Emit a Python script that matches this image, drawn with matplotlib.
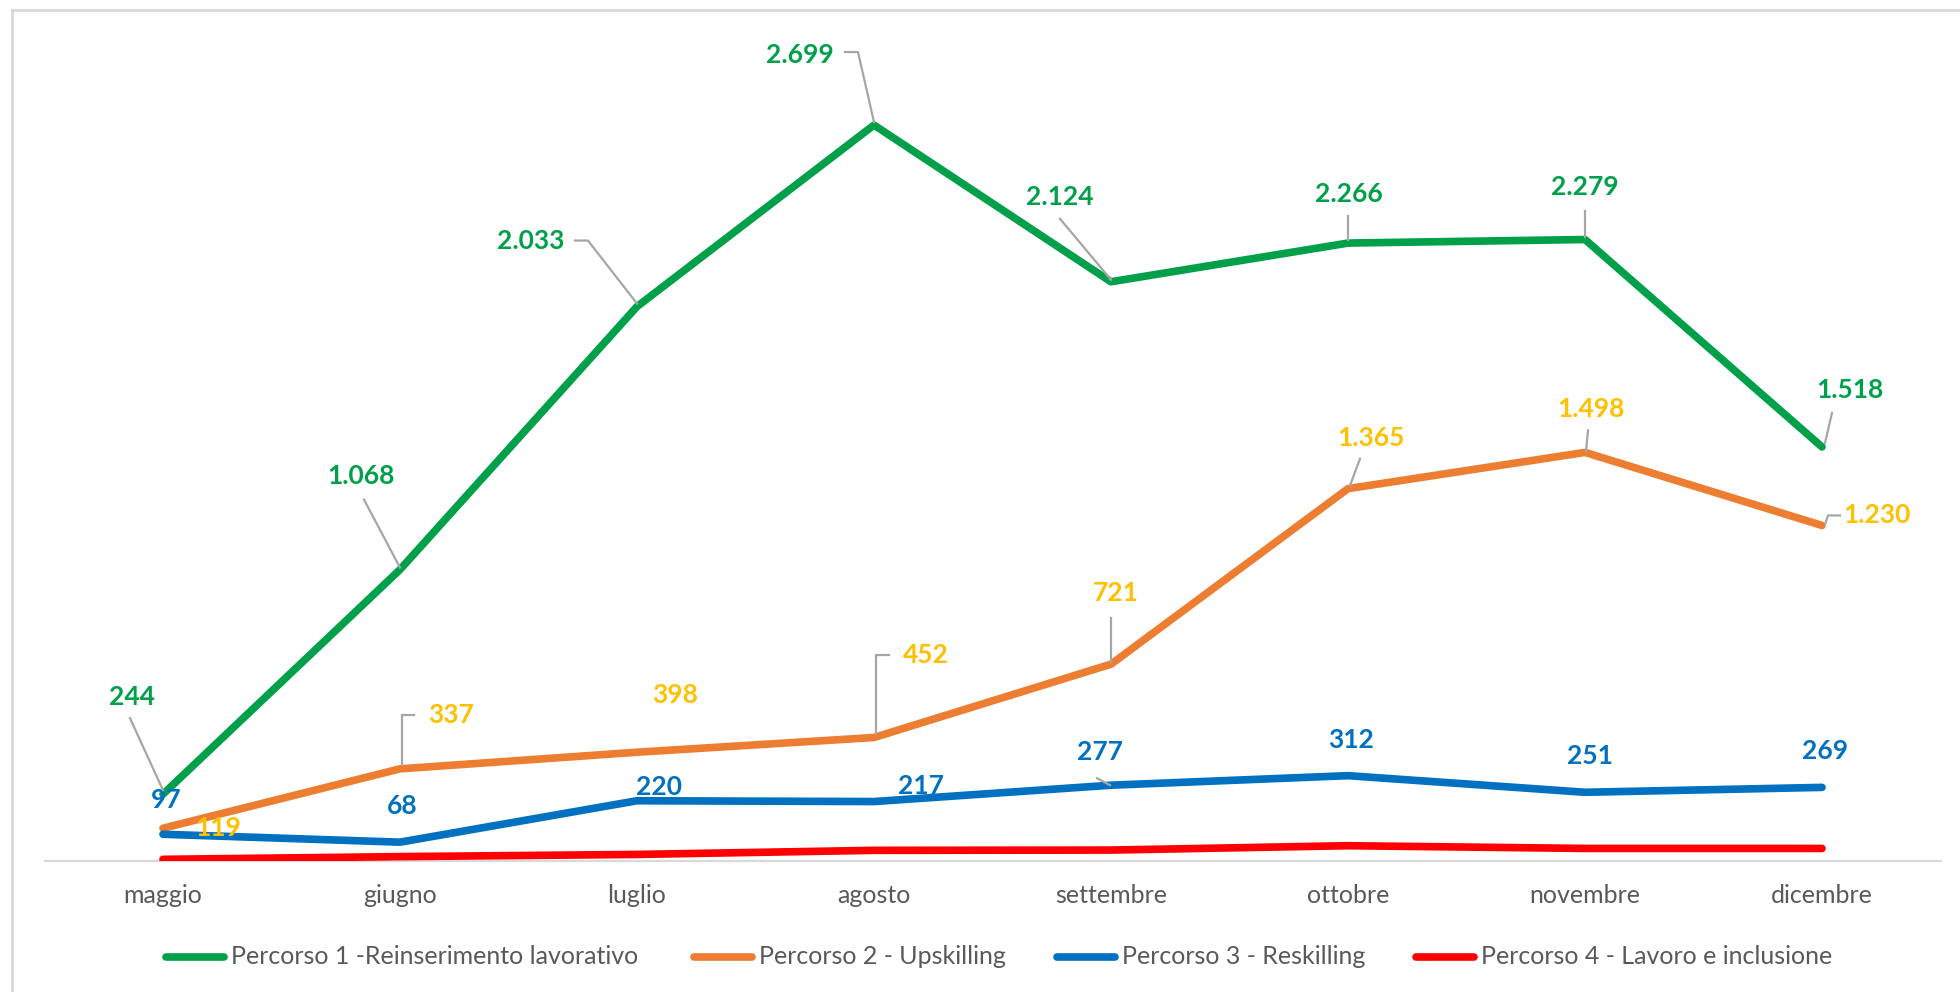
import matplotlib
matplotlib.use("Agg")
import matplotlib.pyplot as plt
from matplotlib.lines import Line2D

months = ["maggio", "giugno", "luglio", "agosto", "settembre", "ottobre", "novembre", "dicembre"]
percorso1 = [244, 1068, 2033, 2699, 2124, 2266, 2279, 1518]
percorso2 = [119, 337, 398, 452, 721, 1365, 1498, 1230]
percorso3 = [97, 68, 220, 217, 277, 312, 251, 269]
percorso4 = [5, 15, 23, 38, 39, 55, 45, 45]  # no labels in the source

names = ["Percorso 1 -Reinserimento lavorativo", "Percorso 2 - Upskilling",
         "Percorso 3 - Reskilling", "Percorso 4 - Lavoro e inclusione"]
line_colors = ["#00A04A", "#ED7D31", "#0070C0", "#FF0000"]
label_colors = ["#00A04A", "#FFC000", "#0070C0", None]

# label offsets from the point, pixels (x right, y down) as in the picture
label_off = [
    [(-31, -97), (-39, -94), (-106, -66), (-74, -70), (-51, -85), (1, -49), (0, -53), (28, -57)],
    [(55, 0), (51, -54), (38, -57), (52, -82), (5, -71), (23, -51), (6, -43), (55, -10)],
    [(3, -34), (2, -36), (22, -14), (47, -16), (-11, -33), (3, -36), (5, -36), (3, -36)],
]
# leader lines (series, point index, polyline offsets)
leaders = [
    (0, 0, [(-33, -76), (0, -4)]),
    (0, 1, [(-36, -70), (0, -2)]),
    (0, 2, [(-62, -66), (-49, -66), (0, -3)]),
    (0, 3, [(-29, -73), (-16, -73), (0, -3)]),
    (0, 4, [(-51, -63), (0, -2)]),
    (0, 5, [(0, -27), (0, -3)]),
    (0, 6, [(0, -29), (0, -3)]),
    (0, 7, [(10, -34), (3, -4)]),
    (1, 1, [(14, -54), (2, -54), (2, -4)]),
    (1, 3, [(15, -82), (2, -82), (2, -3)]),
    (1, 4, [(0, -46), (0, -2)]),
    (1, 5, [(12, -30), (2, -3)]),
    (1, 6, [(3, -22), (1, -1)]),
    (1, 7, [(18, -10), (6, -10), (3, -1)]),
    (2, 4, [(-14, -7), (-1, 0)]),
]

plt.rcParams["font.family"] = ["Lato", "DejaVu Sans"]

fig = plt.figure(figsize=(19.6, 9.92), dpi=100)
ax = fig.add_axes([44.5 / 1960, 1 - 860.7 / 992, 1896 / 1960, (860.7 - 43) / 992])

series = [percorso1, percorso2, percorso3, percorso4]
x = list(range(len(months)))
for vals, col in zip(series, line_colors):
    ax.plot(x, vals, color=col, lw=5.5, solid_capstyle="round", solid_joinstyle="round", zorder=3)

ax.set_xlim(-0.5, len(months) - 0.5)
ax.set_ylim(0, 3000)
ax.set_yticks([])
ax.set_xticks(x)
ax.set_xticklabels(months, fontsize=18, color="#595959")
ax.tick_params(axis="x", length=0, pad=17)
for side in ["top", "left", "right"]:
    ax.spines[side].set_visible(False)
ax.spines["bottom"].set_color("#D9D9D9")
ax.spines["bottom"].set_linewidth(1.6)

for s in range(3):
    for i, v in enumerate(series[s]):
        dx, dy = label_off[s][i]
        ax.annotate(f"{v:,}".replace(",", "."), xy=(i, v), xytext=(dx, -dy),
                    textcoords="offset pixels", ha="center", va="center",
                    fontsize=19, fontweight="bold", color=label_colors[s], zorder=5)

for s, i, pts in leaders:
    px, py = ax.transData.transform((i, series[s][i]))
    xs = [px + dx for dx, dy in pts]
    ys = [py - dy for dx, dy in pts]
    fig.add_artist(Line2D(xs, ys, transform=None, color="#A6A6A6", lw=1.6, zorder=2))

# legend row
leg_y = 1 - 957 / 992
handle_x = [166, 694, 1057, 1416]
for hx, col, name in zip(handle_x, line_colors, names):
    fig.add_artist(Line2D([hx / 1960, (hx + 58) / 1960], [leg_y, leg_y],
                          color=col, lw=5.5, solid_capstyle="round"))
    fig.text((hx + 65) / 1960, leg_y, name, fontsize=18, color="#595959", va="center")

# chart border
fig.add_artist(Line2D([12 / 1960, 1], [1 - 10 / 992] * 2, color="#D9D9D9", lw=2))
fig.add_artist(Line2D([12 / 1960] * 2, [0, 1 - 10 / 992], color="#D9D9D9", lw=2))

fig.savefig("out.png", dpi=100)
